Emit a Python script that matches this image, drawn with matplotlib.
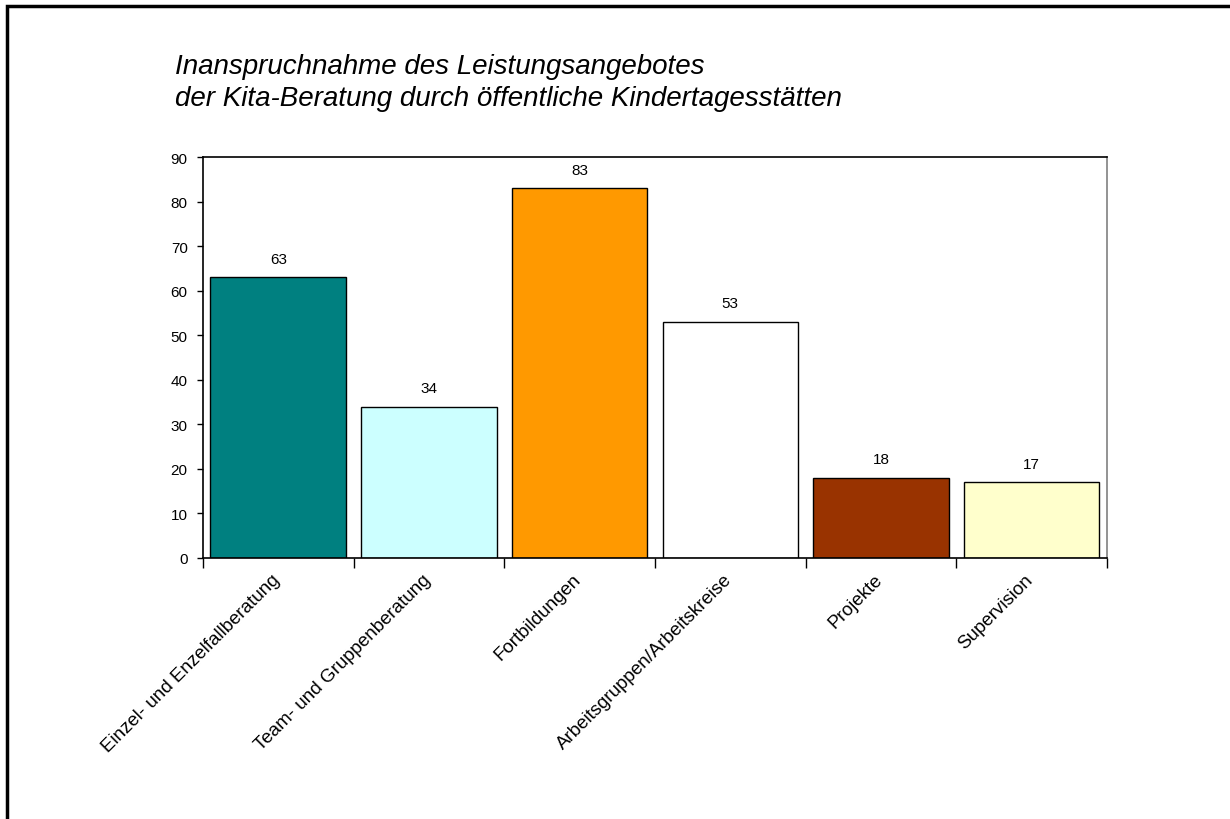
import matplotlib.pyplot as plt
import matplotlib.transforms as mtransforms
import numpy as np
from matplotlib.patches import Rectangle

plt.rcParams['font.family'] = ['Liberation Sans', 'DejaVu Sans']

categories = ["Einzel- und Enzelfallberatung", "Team- und Gruppenberatung", "Fortbildungen",
              "Arbeitsgruppen/Arbeitskreise", "Projekte", "Supervision"]
values = [63, 34, 83, 53, 18, 17]
colors = ["#008080", "#CCFFFF", "#FF9900", "#FFFFFF", "#993300", "#FFFFCC"]
title = "Inanspruchnahme des Leistungsangebotes\nder Kita-Beratung durch öffentliche Kindertagesstätten"

fig = plt.figure(figsize=(12.3, 8.2), dpi=100)
ax = fig.add_axes([0.165, 0.3183, 0.735, 0.489])

x = np.arange(len(categories))
ax.bar(x, values, width=0.9, color=colors, edgecolor="black", linewidth=1)
for xi, v in zip(x, values):
    ax.text(xi, v + 2.6, str(v), ha="center", va="bottom", fontsize=11)

ax.set_xlim(-0.5, len(categories) - 0.5)
ax.set_ylim(0, 90)
ax.set_yticks(np.arange(0, 91, 10))
ax.tick_params(axis="y", direction="out", length=4, width=1, labelsize=11, pad=7)

# category boundaries get the tick marks, labels sit at the centres
ax.set_xticks(np.arange(-0.5, len(categories), 1.0))
ax.set_xticklabels([])
ax.tick_params(axis="x", which="major", direction="out", length=7, width=1)
ax.set_xticks(x, minor=True)
ax.set_xticklabels(categories, minor=True, rotation=45, ha="right",
                   rotation_mode="anchor", fontsize=13.5)
ax.tick_params(axis="x", which="minor", length=0, pad=9)
shift = mtransforms.ScaledTranslation(-7 / 100, 0, fig.dpi_scale_trans)
for lab in ax.get_xticklabels(minor=True):
    lab.set_transform(lab.get_transform() + shift)

ax.spines["right"].set_color("#808080")
ax.spines["top"].set_color("black")
for s in ax.spines.values():
    s.set_linewidth(1.2)

fig.text(175 / 1230, 1 - 54 / 820, title, ha="left", va="top", fontsize=20,
         style="italic", linespacing=1.3)

# outer frame, cut off at right and bottom like the reference
fig.patches.append(Rectangle((7 / 1230, -0.05), 1.1, 1 - 7 / 820 + 0.05,
                             transform=fig.transFigure, fill=False,
                             edgecolor="black", linewidth=2.5))

fig.savefig("out.png", dpi=100)
